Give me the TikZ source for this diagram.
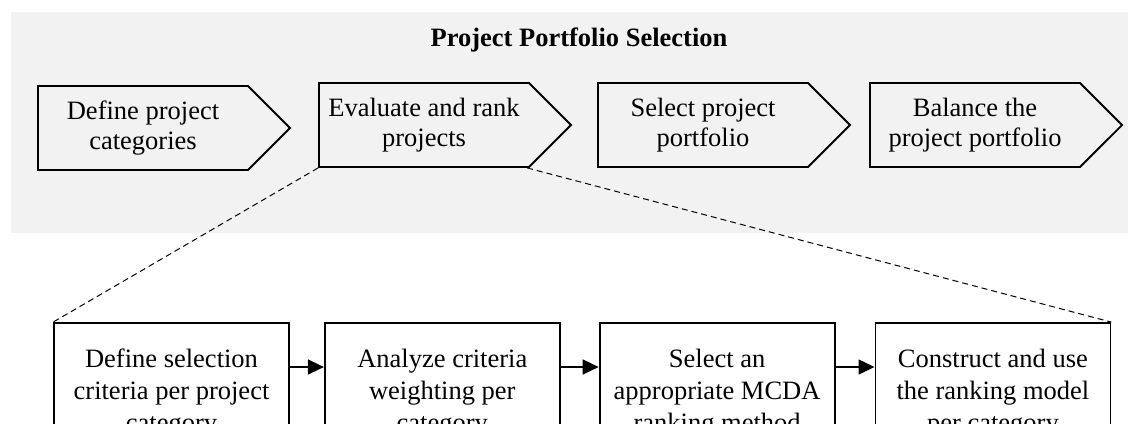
\documentclass[tikz,border=0pt]{standalone}
\usepackage{fontspec}
\setmainfont{Liberation Serif}
\usetikzlibrary{shapes, arrows}
\usetikzlibrary{arrows.meta,calc}
\usetikzlibrary{positioning}

\begin{document}
\begin{tikzpicture}[x=0.5pt,y=-0.5pt]

		    \definecolor{panel}{rgb}{0.95,0.95,0.95}
		    \tikzset{
		      stage/.style={signal,signal to=east,signal pointer angle=90,draw,line width=0.9pt,fill=panel,
		        minimum width=126pt,minimum height=42pt,align=center,inner sep=0pt,
		        font=\fontsize{13.25pt}{15pt}\selectfont},
		      task/.style={draw,line width=0.9pt,fill=white,minimum width=117.5pt,minimum height=70pt,
		        align=center,inner sep=0pt,font=\fontsize{13.25pt}{16pt}\selectfont},
		      flow/.style={-{Triangle[length=8pt,width=7.5pt]},line width=0.7pt}
		    }
		    \clip (0,0) rectangle (1128,423);
		    \fill[panel] (11,12) rectangle (1128,233);

		    \node(title) [font=\fontsize{13.25pt}{15pt}\selectfont\bfseries] at (579,40) {Project Portfolio Selection};

		    \node(stage1) [stage] at (143,128) {Define project\\categories};
		    \node(stage2) [stage] at (424,125) {Evaluate and rank\\projects};
		    \node(stage3) [stage] at (703,125) {Select project\\portfolio};
		    \node(stage4) [stage] at (975,125) {Balance the\\project portfolio};

		    \node(task1) [task] at (171.5,393) {Define selection\\criteria per project\\category};
		    \node(task2) [task,right=17pt of task1] {Analyze criteria\\weighting per\\category};
		    \node(task3) [task,right=19pt of task2] {Select an\\appropriate MCDA\\ranking method};
		    \node(task4) [task,right=19.5pt of task3] {Construct and use\\the ranking model\\per category};

		    \draw[flow] ([yshift=13pt]task1.east) -- ([yshift=13pt]task2.west);
		    \draw[flow] ([yshift=13pt]task2.east) -- ([yshift=13pt]task3.west);
		    \draw[flow] ([yshift=13pt]task3.east) -- ([yshift=13pt]task4.west);

		    \draw[dash pattern=on 3pt off 2pt,line width=0.5pt] (stage2.south west) -- (task1.north west);
		    \draw[dash pattern=on 3pt off 2pt,line width=0.5pt] ($(stage2.south west)+(209,0)$) -- (task4.north east);

\end{tikzpicture}
\end{document}
